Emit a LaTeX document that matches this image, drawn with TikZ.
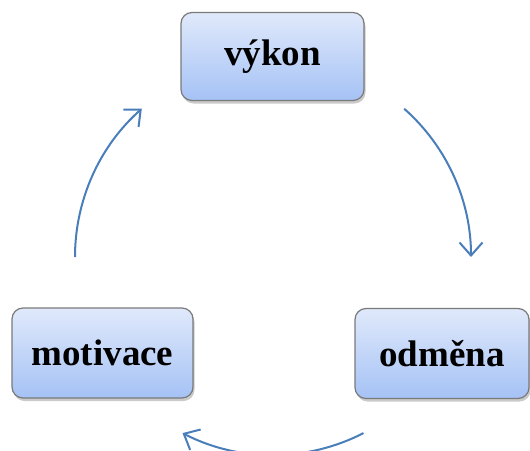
\documentclass[tikz,border=0pt]{standalone}
\usepackage{fontspec}
\setmainfont{Liberation Serif}
\usetikzlibrary{arrows.meta,shadows}
\definecolor{arrowblue}{HTML}{4A7EBB}
\definecolor{boxtop}{HTML}{E0E9FB}
\definecolor{boxbot}{HTML}{A5C2F5}
\definecolor{boxline}{HTML}{7A7A7A}
\tikzset{
  cyclebox/.style={rounded corners=11pt, draw=boxline, line width=1.2pt,
    top color=boxtop, bottom color=boxbot,
    drop shadow={shadow xshift=1.5pt, shadow yshift=-3pt, opacity=0.35, fill=black!60},
    font=\fontsize{37}{40}\selectfont\bfseries, align=center, inner sep=0pt},
  cyclearrow/.style={draw=arrowblue, line width=2pt,
    -{Straight Barb[length=13pt,width=23pt,line width=2pt]}}
}
\begin{document}
\begin{tikzpicture}[x=1pt,y=-1pt]
\useasboundingbox (0,0) rectangle (530,450);
\node[cyclebox, minimum width=183pt, minimum height=88pt] (vykon) at (272.5,56.5) {výkon};
\node[cyclebox, minimum width=181pt, minimum height=90pt] (motivace) at (102.5,353) {motivace};
\node[cyclebox, minimum width=174pt, minimum height=90pt] (odmena) at (442,353.5) {odměna};
\coordinate (ctr) at (273,257);
\draw[cyclearrow] ([shift={(48.5:198pt)}]ctr) arc[start angle=48.5, end angle=0, radius=198pt];
\draw[cyclearrow] ([shift={(-62.8:198pt)}]ctr) arc[start angle=-62.8, end angle=-117.2, radius=198pt];
\draw[cyclearrow] ([shift={(180:198pt)}]ctr) arc[start angle=180, end angle=131.5, radius=198pt];
\end{tikzpicture}
\end{document}
